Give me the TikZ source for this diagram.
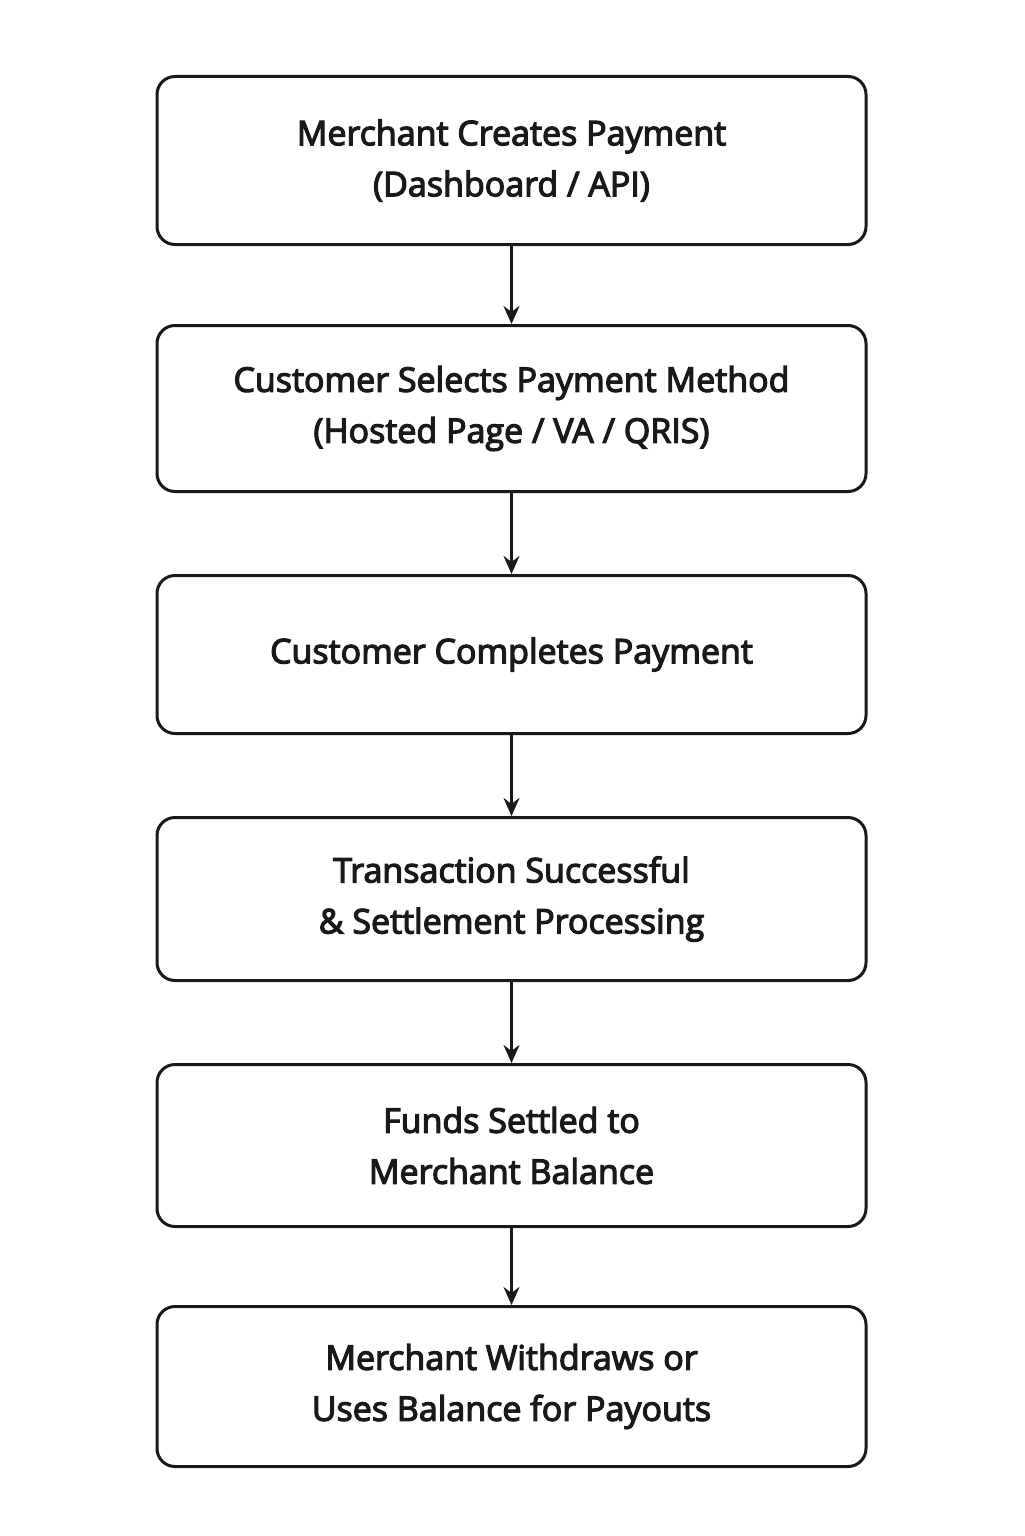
\documentclass[tikz,border=0pt]{standalone}
\usepackage{fontspec}
\setmainfont{Open Sans}
\usetikzlibrary{arrows.meta}
\begin{document}
\begin{tikzpicture}[x=0.5pt,y=-0.5pt,
  stepbox/.style={draw=black!90,line width=1.5pt,rounded corners=9pt,minimum width=354.5pt,align=center,font=\fontsize{17}{25.5}\selectfont\addfontfeatures{FakeBold=3.5},text=black!90},
  flow/.style={draw=black!90,line width=1.2pt,-{Stealth[length=9pt,width=8pt]}}]
\useasboundingbox (0,0) rectangle (1024,1536);
\node[stepbox,minimum height=84pt] (b1) at (511.5,160.5) {Merchant Creates Payment\\(Dashboard / API)};
\node[stepbox,minimum height=83pt] (b2) at (511.5,408.5) {Customer Selects Payment Method\\(Hosted Page / VA / QRIS)};
\node[stepbox,minimum height=79pt] (b3) at (511.5,654.5) {Customer Completes Payment};
\node[stepbox,minimum height=81.5pt] (b4) at (511.5,899) {Transaction Successful\\\& Settlement Processing};
\node[stepbox,minimum height=81pt] (b5) at (511.5,1145.5) {Funds Settled to\\Merchant Balance};
\node[stepbox,minimum height=80pt] (b6) at (511.5,1386.5) {Merchant Withdraws or\\Uses Balance for Payouts};
\draw[flow] (b1) -- (b2);
\draw[flow] (b2) -- (b3);
\draw[flow] (b3) -- (b4);
\draw[flow] (b4) -- (b5);
\draw[flow] (b5) -- (b6);
\end{tikzpicture}
\end{document}
